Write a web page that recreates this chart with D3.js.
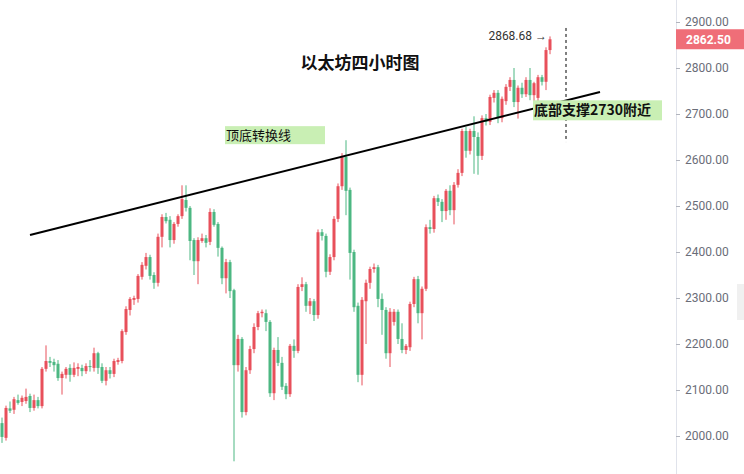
<!DOCTYPE html>
<html><head><meta charset="utf-8">
<script src="https://cdn.jsdelivr.net/npm/d3@7"></script>
<style>body{margin:0;background:#fff;}svg{display:block;font-family:"Noto Sans CJK SC","Noto Sans",sans-serif;}</style>
</head><body><svg id="c" width="744" height="474"></svg>
<script>
// [open, high, low, close]
const candles = [
[2028,2040,1985,1998],[1996,2066,1990,2061],[2060,2075,2050,2055],[2057,2085,2048,2080],[2078,2090,2068,2072],
[2074,2088,2065,2083],[2076,2103,2070,2085],[2087,2092,2052,2061],[2061,2090,2055,2078],[2078,2085,2060,2065],
[2065,2150,2060,2146],[2146,2197,2140,2163],[2163,2172,2150,2159],[2161,2168,2140,2154],[2157,2165,2120,2126],
[2126,2140,2090,2135],[2133,2150,2125,2146],[2148,2156,2118,2133],[2133,2160,2128,2148],[2146,2158,2130,2150],
[2148,2155,2130,2141],[2141,2158,2135,2152],[2152,2165,2140,2150],[2148,2192,2140,2180],[2180,2183,2135,2148],
[2150,2158,2115,2120],[2120,2150,2110,2143],[2143,2150,2125,2135],[2135,2168,2128,2163],[2161,2170,2155,2165],
[2163,2232,2158,2228],[2226,2282,2220,2276],[2274,2302,2262,2298],[2296,2305,2285,2300],[2298,2352,2290,2348],
[2346,2378,2340,2372],[2370,2398,2362,2389],[2389,2394,2340,2348],[2350,2356,2320,2333],[2333,2440,2325,2433],
[2433,2482,2410,2476],[2476,2485,2462,2467],[2470,2478,2410,2426],[2426,2465,2418,2461],[2461,2482,2455,2478],
[2478,2545,2472,2515],[2513,2545,2488,2496],[2496,2500,2382,2424],[2426,2430,2350,2380],[2380,2432,2330,2426],
[2424,2440,2420,2430],[2430,2437,2410,2420],[2422,2495,2415,2487],[2487,2493,2455,2459],[2461,2465,2390,2409],
[2409,2412,2330,2343],[2343,2385,2310,2378],[2378,2383,2300,2315],[2317,2320,1945,2154],[2154,2220,2140,2211],
[2211,2215,2040,2052],[2052,2150,2045,2143],[2143,2196,2135,2189],[2189,2245,2180,2237],[2237,2272,2230,2267],
[2267,2275,2258,2270],[2267,2275,2228,2248],[2248,2252,2085,2093],[2093,2192,2078,2187],[2187,2215,2152,2159],
[2159,2172,2100,2107],[2109,2115,2080,2091],[2091,2200,2085,2196],[2196,2210,2170,2185],[2185,2330,2180,2324],
[2324,2345,2315,2330],[2330,2335,2270,2283],[2283,2300,2265,2293],[2293,2298,2250,2263],[2263,2449,2255,2443],
[2443,2450,2425,2435],[2435,2440,2345,2357],[2357,2395,2350,2389],[2389,2478,2382,2472],[2472,2549,2465,2543],
[2543,2615,2535,2609],[2607,2643,2480,2533],[2535,2540,2340,2398],[2400,2405,2270,2280],[2283,2290,2117,2133],
[2133,2302,2110,2296],[2293,2340,2200,2333],[2333,2368,2320,2363],[2363,2375,2355,2367],[2367,2372,2280,2298],
[2298,2310,2220,2274],[2274,2280,2168,2180],[2180,2278,2150,2270],[2248,2276,2240,2270],[2270,2275,2200,2211],
[2211,2245,2180,2187],[2187,2200,2178,2196],[2193,2292,2185,2287],[2287,2346,2280,2341],[2341,2348,2245,2267],
[2267,2325,2210,2320],[2320,2460,2315,2454],[2454,2470,2440,2450],[2450,2522,2442,2517],[2517,2525,2500,2509],
[2509,2515,2465,2489],[2489,2537,2470,2533],[2533,2545,2480,2491],[2491,2552,2460,2546],[2546,2580,2540,2572],
[2572,2668,2565,2663],[2663,2672,2605,2620],[2620,2668,2612,2663],[2663,2695,2570,2650],[2650,2660,2568,2609],
[2609,2697,2600,2691],[2691,2700,2675,2683],[2683,2742,2676,2737],[2735,2752,2725,2746],[2746,2752,2680,2691],
[2691,2738,2682,2733],[2728,2765,2720,2759],[2759,2780,2750,2774],[2774,2800,2715,2726],[2726,2762,2690,2757],
[2757,2768,2735,2743],[2743,2780,2737,2774],[2774,2800,2730,2741],[2741,2770,2718,2767],[2735,2785,2728,2780],
[2780,2785,2762,2770],[2770,2845,2752,2839],[2839,2868.68,2830,2862.5]
];
const yTicks = [2000,2100,2200,2300,2400,2500,2600,2700,2800,2900];
const lastPrice = 2862.5, highPrice = 2868.68;
const trendLine = [[7,2437],[149.5,2748]];
const dashLine = [[141,2887],[141,2639]];
const title = "以太坊四小时图";
const labels = [{t:"顶底转换线", i:56, p:2654},{t:"底部支撑2730附近", i:133, p:2708}];

const svg = d3.select("#c");
const x = d3.scaleLinear().domain([0,137]).range([2,550]);
const y = d3.scaleLinear().domain([2000,2900]).range([436,22]);
const up = "#e8505b", dn = "#4cb782";

svg.append("line").attr("x1",676.5).attr("x2",676.5).attr("y1",0).attr("y2",474).attr("stroke","#e0e3eb");
const ax = svg.append("g").attr("transform","translate(676,0)")
  .call(d3.axisRight(y).tickValues(yTicks).tickFormat(d3.format(".2f")).tickSize(4).tickPadding(5));
ax.select(".domain").remove();
ax.selectAll("line").attr("stroke","#b2b5be");
ax.selectAll("text").attr("fill","#6a6d78").attr("font-size",12).attr("font-family","Roboto, sans-serif");

const g = svg.append("g");
candles.forEach((c,i)=>{
  const [o,h,l,cl]=c, col = cl>=o?up:dn, cx=x(i);
  g.append("line").attr("x1",cx).attr("x2",cx).attr("y1",y(h)).attr("y2",y(l)).attr("stroke",col).attr("stroke-width",1);
  const t=Math.min(y(o),y(cl)), b=Math.max(y(o),y(cl));
  g.append("rect").attr("x",cx-1.5).attr("width",3).attr("y",t).attr("height",Math.max(1,b-t)).attr("fill",col);
});

svg.append("line").attr("x1",x(trendLine[0][0])).attr("y1",y(trendLine[0][1])).attr("x2",x(trendLine[1][0])).attr("y2",y(trendLine[1][1]))
  .attr("stroke","#000").attr("stroke-width",2);
svg.append("line").attr("x1",x(dashLine[0][0])).attr("y1",y(dashLine[0][1])).attr("x2",x(dashLine[1][0])).attr("y2",y(dashLine[1][1]))
  .attr("stroke","#000").attr("stroke-width",1).attr("stroke-dasharray","3,3");

labels.forEach((L,k)=>{
  const tx = x(L.i), ty=y(L.p);
  const w = k==0?100:129, hgt = k==0?18:20;
  svg.append("rect").attr("x",tx-1).attr("y",ty-hgt/2).attr("width",w).attr("height",hgt).attr("fill","#c9efb4");
  svg.append("text").attr("x",tx).attr("y",ty+5).attr("font-size",k==0?13:14).attr("font-weight",k==0?"normal":"bold").attr("fill","#111").text(L.t);
});
svg.append("text").attr("x",360).attr("y",69).attr("text-anchor","middle").attr("font-size",17).attr("font-weight","bold").attr("fill","#111").text(title);

svg.append("text").attr("x",x(137)-3).attr("y",y(highPrice)+4).attr("text-anchor","end").attr("font-size",12).attr("fill","#333").attr("font-family","Roboto, sans-serif").text(d3.format(".2f")(highPrice)+" →");

svg.append("rect").attr("x",676).attr("y",y(lastPrice)-10).attr("width",68).attr("height",20).attr("fill","#ef6e78");
svg.append("text").attr("x",686).attr("y",y(lastPrice)+4.5).attr("font-size",12).attr("font-weight","bold").attr("fill","#fff").attr("font-family","Roboto, sans-serif").text(d3.format(".2f")(lastPrice));

svg.append("rect").attr("x",737).attr("y",284).attr("width",7).attr("height",36).attr("fill","#f0f0f0");
</script></body></html>
